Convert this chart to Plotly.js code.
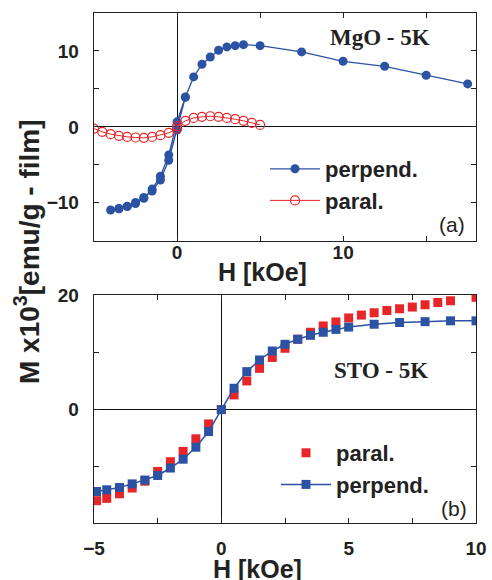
<!DOCTYPE html>
<html>
<head>
<meta charset="utf-8">
<script src="https://cdn.plot.ly/plotly-3.0.1.min.js"></script>
<style>html,body{margin:0;padding:0;background:#fff;}#chart{width:492px;height:580px;}</style>
</head>
<body>
<div id="chart"></div>
<script>
// Panel (a): MgO - 5K
var perpA_H = [17.5, 15, 12.5, 10, 7.5, 5, 4, 3.5, 3, 2.5, 2, 1.5, 1, 0.5, 0, -0.5, -1, -1.5, -2, -2.5, -3, -3.5, -4, -3.5, -3, -2.5, -2, -1.5, -1, -0.5, 0, 0.5];
var perpA_M = [5.66, 6.80, 7.98, 8.64, 9.87, 10.70, 10.83, 10.70, 10.53, 10.09, 9.21, 8.25, 6.58, 3.95, 0.66, -3.7, -6.5, -8.2, -9.4, -10.1, -10.5, -10.8, -10.96, -10.75, -10.45, -9.95, -9.3, -8.45, -7.0, -4.4, -0.43, 3.9];
var parA_H = [-5, -4.5, -4, -3.5, -3, -2.5, -2, -1.5, -1, -0.5, 0, 0, 0.5, 1, 1.5, 2, 2.5, 3, 3.5, 4, 4.5, 5];
var parA_M = [-0.22, -0.66, -0.96, -1.18, -1.32, -1.40, -1.45, -1.32, -1.10, -0.79, -0.25, 0.09, 0.79, 1.18, 1.32, 1.40, 1.32, 1.18, 1.01, 0.79, 0.53, 0.26];

// Panel (b): STO - 5K
var parB_H = [-4.9, -4.5, -4, -3.5, -3, -2.5, -2, -1.5, -1, -0.5, 0, 0.5, 1, 1.5, 2, 2.5, 3, 3.5, 4, 4.5, 5, 5.5, 6, 6.5, 7, 7.5, 8, 8.5, 9, 10];
var parB_M = [-15.9, -15.5, -14.7, -13.7, -12.5, -10.8, -9.1, -7.3, -5.1, -2.5, 0, 2.56, 5.0, 7.2, 9.1, 10.7, 12.3, 13.5, 14.6, 15.3, 16.0, 16.5, 16.9, 17.3, 17.6, 17.9, 18.3, 18.7, 19.0, 19.6];
var perpB_H = [-4.9, -4.5, -4, -3.5, -3, -2.5, -2, -1.5, -1, -0.5, 0, 0.5, 1, 1.5, 2, 2.5, 3, 3.5, 4, 4.5, 5, 6, 7, 8, 9, 10];
var perpB_M = [-14.3, -14.0, -13.6, -12.97, -12.3, -11.5, -10.2, -8.66, -6.57, -3.84, 0, 3.72, 6.63, 8.66, 10.23, 11.4, 12.27, 12.97, 13.5, 14.0, 14.4, 14.9, 15.2, 15.35, 15.5, 15.5];

var blue = '#2c52a3';
var red = '#e8262a';
var sans = 'Liberation Sans, Arial, sans-serif';
var serif = 'Liberation Serif, Times New Roman, serif';

var traces = [
  {x: perpA_H, y: perpA_M, xaxis: 'x', yaxis: 'y', name: 'perpend.', legend: 'legend',
   mode: 'lines+markers', line: {color: blue, width: 1.3},
   marker: {symbol: 'circle', size: 9, color: blue}},
  {x: parA_H, y: parA_M, xaxis: 'x', yaxis: 'y', name: 'paral.', legend: 'legend',
   mode: 'lines+markers', line: {color: red, width: 1},
   marker: {symbol: 'circle-open', size: 9, color: red, line: {width: 1.2, color: red}}},
  {x: parB_H, y: parB_M, xaxis: 'x2', yaxis: 'y2', name: 'paral.', legend: 'legend2',
   mode: 'markers', marker: {symbol: 'square', size: 9, color: red}},
  {x: perpB_H, y: perpB_M, xaxis: 'x2', yaxis: 'y2', name: 'perpend.', legend: 'legend2',
   mode: 'lines+markers', line: {color: blue, width: 1.5},
   marker: {symbol: 'square', size: 9, color: blue}}
];

function axisBase() {
  return {
    showline: true, linecolor: '#222', linewidth: 1.3, mirror: 'ticks',
    ticks: 'inside', ticklen: 5, tickwidth: 1, tickcolor: '#222',
    showgrid: false, zeroline: true, zerolinecolor: '#111', zerolinewidth: 1,
    tickfont: {family: sans, size: 19, color: '#222', weight: 'bold'}
  };
}

var xa = axisBase();
Object.assign(xa, {domain: [0, 1], anchor: 'y', range: [-5, 18], tickmode: 'array', tickvals: [0, 10],
  minor: {tickvals: [-5, 5, 15], ticks: 'inside', ticklen: 5, tickcolor: '#222'}, ticklabelstandoff: -6});
var ya = axisBase();
Object.assign(ya, {domain: [0.5535, 1], anchor: 'x', range: [-15, 15], tickmode: 'array', tickvals: [-10, 0, 10],
  minor: {tickvals: [-5, 5], ticks: 'inside', ticklen: 5, tickcolor: '#222'}, ticklabelstandoff: 10});
var xa2 = axisBase();
Object.assign(xa2, {domain: [0, 1], anchor: 'y2', range: [-5, 10], tickmode: 'array', tickvals: [-5, 0, 5, 10],
  minor: {tickvals: [-2.5, 2.5, 7.5], ticks: 'inside', ticklen: 5, tickcolor: '#222'}, ticklabelstandoff: 8});
var ya2 = axisBase();
Object.assign(ya2, {domain: [0, 0.447], anchor: 'x2', range: [-19.8, 20], tickmode: 'array', tickvals: [0, 20],
  minor: {tickvals: [-10, 10], ticks: 'inside', ticklen: 5, tickcolor: '#222'}, ticklabelstandoff: 10});

function px(x) { return (x - 94) / 382; }
function py(y) { return (523 - y) / 510; }

var layout = {
  width: 492, height: 580,
  margin: {l: 94, r: 16, t: 13, b: 57},
  paper_bgcolor: '#fff', plot_bgcolor: '#fff',
  showlegend: true,
  xaxis: xa, yaxis: ya, xaxis2: xa2, yaxis2: ya2,
  legend: {x: px(265), y: py(148), xanchor: 'left', yanchor: 'top', bgcolor: 'rgba(0,0,0,0)',
    font: {family: sans, size: 22, color: '#222', weight: 'bold'}, itemwidth: 50, tracegroupgap: 0},
  legend2: {x: px(276), y: py(432), xanchor: 'left', yanchor: 'top', bgcolor: 'rgba(0,0,0,0)',
    font: {family: sans, size: 22, color: '#222', weight: 'bold'}, itemwidth: 50, tracegroupgap: 0},
  annotations: [
    {text: 'MgO - 5K', xref: 'paper', yref: 'paper', x: px(380), y: py(37), xanchor: 'center', yanchor: 'middle',
     showarrow: false, font: {family: serif, size: 23, color: '#222', weight: 'bold'}},
    {text: 'STO - 5K', xref: 'paper', yref: 'paper', x: px(381), y: py(370), xanchor: 'center', yanchor: 'middle',
     showarrow: false, font: {family: serif, size: 23, color: '#222', weight: 'bold'}},
    {text: '(a)', xref: 'paper', yref: 'paper', x: px(452), y: py(224), xanchor: 'center', yanchor: 'middle',
     showarrow: false, font: {family: sans, size: 21, color: '#222'}},
    {text: '(b)', xref: 'paper', yref: 'paper', x: px(454), y: py(508), xanchor: 'center', yanchor: 'middle',
     showarrow: false, font: {family: sans, size: 21, color: '#222'}},
    {text: 'H [kOe]', xref: 'paper', yref: 'paper', x: px(262), y: py(272), xanchor: 'center', yanchor: 'middle',
     showarrow: false, font: {family: sans, size: 25, color: '#222', weight: 'bold'}},
    {text: 'H [kOe]', xref: 'paper', yref: 'paper', x: px(257), y: py(569), xanchor: 'center', yanchor: 'middle',
     showarrow: false, font: {family: sans, size: 25, color: '#222', weight: 'bold'}},
    {text: 'M x10<sup>3</sup>[emu/g - film]', xref: 'paper', yref: 'paper', x: px(27), y: py(252), xanchor: 'center', yanchor: 'middle',
     textangle: -90, showarrow: false, font: {family: sans, size: 28, color: '#222', weight: 'bold'}}
  ]
};

Plotly.newPlot('chart', traces, layout, {displayModeBar: false, staticPlot: true});
</script>
</body>
</html>
